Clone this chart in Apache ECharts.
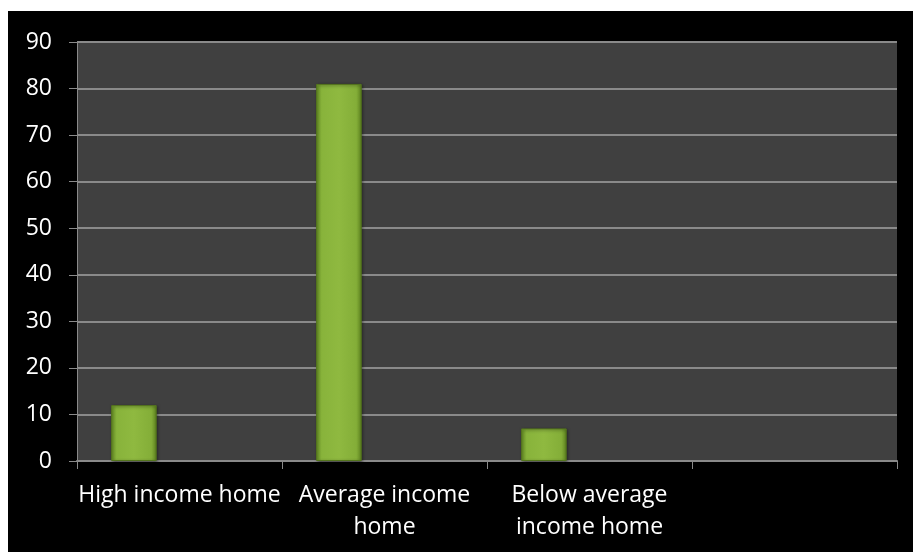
<!DOCTYPE html>
<html>
<head>
<meta charset="utf-8">
<script src="https://cdn.jsdelivr.net/npm/echarts@6/dist/echarts.min.js"></script>
<style>
html,body{margin:0;padding:0;background:#ffffff;width:913px;height:552px;overflow:hidden;}
#chart{position:absolute;left:8px;top:11px;width:905px;height:541px;background:#000000;}
</style>
</head>
<body>
<div id="chart"></div>
<script>
var categories = ['High income home', 'Average income\nhome', 'Below average\nincome home', ''];
var series1 = [12, 81, 7, null];
var series2 = [null, null, null, null];
var series3 = [null, null, null, null];
var yTicks = [0, 10, 20, 30, 40, 50, 60, 70, 80, 90];

var chart = echarts.init(document.getElementById('chart'), null, {renderer: 'canvas'});
var barStyle = {
  color: new echarts.graphic.LinearGradient(0, 0, 1, 0, [
    {offset: 0, color: '#6f9a28'},
    {offset: 0.12, color: '#88b33b'},
    {offset: 0.5, color: '#8fb940'},
    {offset: 0.88, color: '#84ae38'},
    {offset: 1, color: '#5f8520'}
  ]),
  borderColor: '#55761c',
  borderWidth: 1,
  shadowColor: 'rgba(0,0,0,0.5)',
  shadowBlur: 3,
  shadowOffsetX: 1,
  shadowOffsetY: 1
};
chart.setOption({
  backgroundColor: '#000000',
  animation: false,
  grid: {left: 69, top: 31, right: 16, bottom: 91, backgroundColor: '#404040', show: true, borderWidth: 0},
  xAxis: {
    type: 'category',
    data: categories,
    axisLine: {show: true, lineStyle: {color: '#8a8a8a', width: 2}},
    axisTick: {show: true, alignWithLabel: false, length: 8, lineStyle: {color: '#8a8a8a', width: 1}},
    axisLabel: {color: '#ffffff', fontFamily: 'Open Sans', fontSize: 23, lineHeight: 32, margin: 18, interval: 0},
    splitLine: {show: false}
  },
  yAxis: {
    type: 'value',
    min: yTicks[0],
    max: yTicks[yTicks.length - 1],
    interval: 10,
    axisLine: {show: true, lineStyle: {color: '#8a8a8a', width: 1}},
    axisTick: {show: true, length: 8, lineStyle: {color: '#8a8a8a', width: 1}},
    axisLabel: {color: '#ffffff', fontFamily: 'Open Sans', fontSize: 23, margin: 25},
    splitLine: {show: true, lineStyle: {color: '#8a8a8a', width: 2}}
  },
  series: [
    {type: 'bar', data: series1, barGap: '0%', barCategoryGap: '33.3%', itemStyle: barStyle},
    {type: 'bar', data: series2, barGap: '0%', barCategoryGap: '33.3%', itemStyle: barStyle},
    {type: 'bar', data: series3, barGap: '0%', barCategoryGap: '33.3%', itemStyle: barStyle}
  ]
});
</script>
</body>
</html>
